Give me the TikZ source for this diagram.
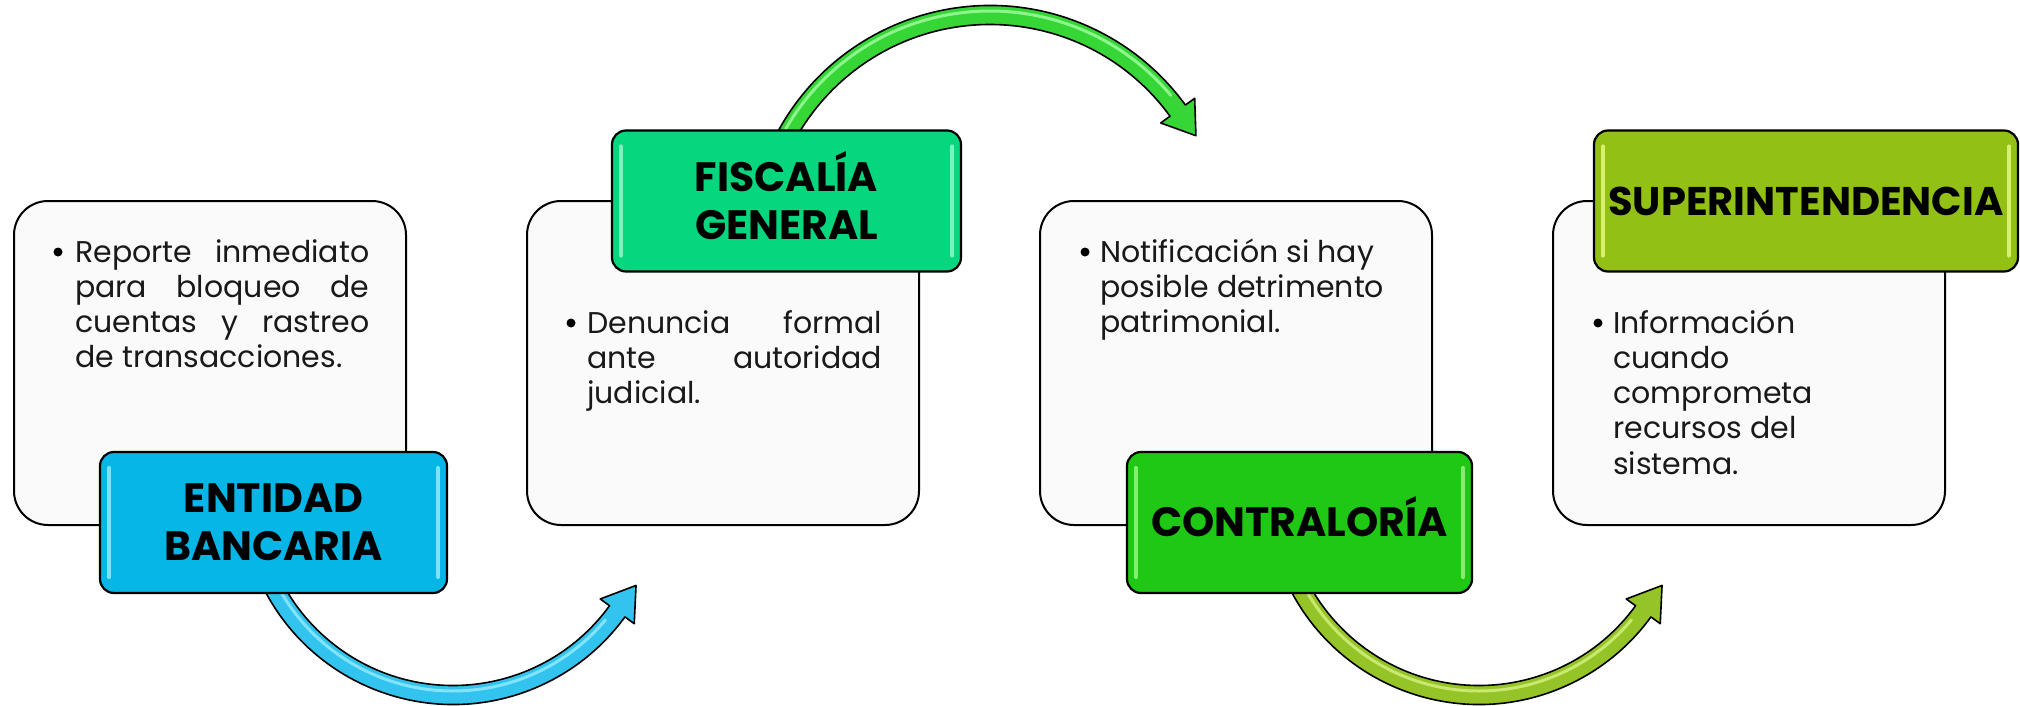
\documentclass[tikz,border=0pt]{standalone}
\usepackage{fontspec}
\setmainfont{Poppins}
\usetikzlibrary{calc}
\definecolor{cardfill}{RGB}{250,250,250}
\definecolor{lA}{RGB}{5,182,230}
\definecolor{lB}{RGB}{6,214,126}
\definecolor{lC}{RGB}{30,200,20}
\definecolor{lD}{RGB}{146,192,20}
\definecolor{lAhi}{RGB}{120,228,255}
\definecolor{lBhi}{RGB}{120,245,190}
\definecolor{lChi}{RGB}{130,240,110}
\definecolor{lDhi}{RGB}{215,240,110}
\definecolor{aA}{RGB}{50,196,238}
\definecolor{aB}{RGB}{55,214,55}
\definecolor{aC}{RGB}{148,196,40}
\definecolor{aAhi}{RGB}{130,228,252}
\definecolor{aBhi}{RGB}{140,245,140}
\definecolor{aChi}{RGB}{200,232,110}
\tikzset{
  card/.style={draw=black, line width=2pt, fill=cardfill, rounded corners=34pt,
    minimum width=392pt, minimum height=324pt, anchor=north west, inner sep=0pt},
  tag/.style={draw=black, line width=2.2pt, rounded corners=14pt, minimum height=141pt,
    inner sep=0pt, align=center, text=black, font=\fontsize{41}{48}\selectfont\bfseries},
  cardtext/.style={anchor=base west, inner sep=0pt, text=black!90, font=\fontsize{30}{35.3}\selectfont},
  bul/.style={circle, fill=black, inner sep=0pt, minimum size=9pt},
  arrowshape/.style={draw=black, line width=1.6pt, line join=round},
  shine/.style={line width=4pt, line cap=round},
  arcshine/.style={line width=3pt, line cap=round}
}
\begin{document}
\begin{tikzpicture}[x=1pt,y=-1pt]
\useasboundingbox (0,0) rectangle (2020,706);
% cards
\node[card] (b1) at (13,200) {};
\node[card] (b2) at (526,200) {};
\node[card] (b3) at (1039,200) {};
\node[card] (b4) at (1552,200) {};
% card texts
\node[bul] (d1) at (58,252) {};
\node[cardtext] (t1) at (75,262) {\parbox[t]{300pt}{\makebox[294pt][s]{Reporte inmediato}\\\makebox[294pt][s]{para bloqueo de}\\\makebox[294pt][s]{cuentas y rastreo}\\de transacciones.}};
\node[bul] (d2) at (571,323) {};
\node[cardtext] (t2) at (587,333) {\parbox[t]{300pt}{\makebox[295pt][s]{Denuncia formal}\\\makebox[295pt][s]{ante autoridad}\\judicial.}};
\node[bul] (d3) at (1085,252) {};
\node[cardtext] (t3) at (1100,262) {\parbox[t]{320pt}{Notificación si hay\\posible detrimento\\patrimonial.}};
\node[bul] (d4) at (1598,323) {};
\node[cardtext] (t4) at (1613,333) {\parbox[t]{300pt}{Información\\cuando\\comprometa\\recursos del\\sistema.}};
% arrow centres
\coordinate (c1) at (453,492);
\coordinate (c2) at (990,247);
\coordinate (c3) at (1479,492);
% arrow 1
\filldraw[arrowshape, fill=aA] ($(c1)+(153:212.5)$) arc[start angle=153, end angle=36, radius=212.5]
  -- ($(c1)+(36:224)$) -- ($(c1)+(36:203)+(-54:32)$) -- ($(c1)+(36:182)$)
  -- ($(c1)+(36:193.5)$) arc[start angle=36, end angle=153, radius=193.5] -- cycle;
\draw[arcshine, aAhi] ($(c1)+(150:199)$) arc[start angle=150, end angle=40, radius=199];
% arrow 2
\filldraw[arrowshape, fill=aB] ($(c2)+(-153:241.5)$) arc[start angle=-153, end angle=-36, radius=241.5]
  -- ($(c2)+(-36:253)$) -- ($(c2)+(-36:232)+(54:31)$) -- ($(c2)+(-36:211)$)
  -- ($(c2)+(-36:222.5)$) arc[start angle=-36, end angle=-153, radius=222.5] -- cycle;
\draw[arcshine, aBhi] ($(c2)+(-150:236)$) arc[start angle=-150, end angle=-40, radius=236];
% arrow 3
\filldraw[arrowshape, fill=aC] ($(c3)+(153:212.5)$) arc[start angle=153, end angle=36, radius=212.5]
  -- ($(c3)+(36:224)$) -- ($(c3)+(36:203)+(-54:32)$) -- ($(c3)+(36:182)$)
  -- ($(c3)+(36:193.5)$) arc[start angle=36, end angle=153, radius=193.5] -- cycle;
\draw[arcshine, aChi] ($(c3)+(150:199)$) arc[start angle=150, end angle=40, radius=199];
% labels
\node[tag, fill=lA, minimum width=347pt] (l1) at (273.5,522.5) {ENTIDAD\\BANCARIA};
\node[tag, fill=lB, minimum width=349pt] (l2) at (786.5,201) {FISCAL\smash{Í}A\\GENERAL};
\node[tag, fill=lC, minimum width=345pt] (l3) at (1299.5,522.5) {CONTRALOR\smash{Í}A};
\node[tag, fill=lD, minimum width=424pt, font=\fontsize{40}{48}\selectfont\bfseries] (l4) at (1806,201) {SUPERINTENDENCIA};
% label shine strips
\foreach \n/\c in {l1/lAhi, l2/lBhi, l3/lChi, l4/lDhi}{
  \draw[shine, \c] ($(\n.north west)+(10,17)$) -- ($(\n.south west)+(10,-17)$);
  \draw[shine, \c] ($(\n.north east)+(-10,17)$) -- ($(\n.south east)+(-10,-17)$);
}
\end{tikzpicture}
\end{document}
